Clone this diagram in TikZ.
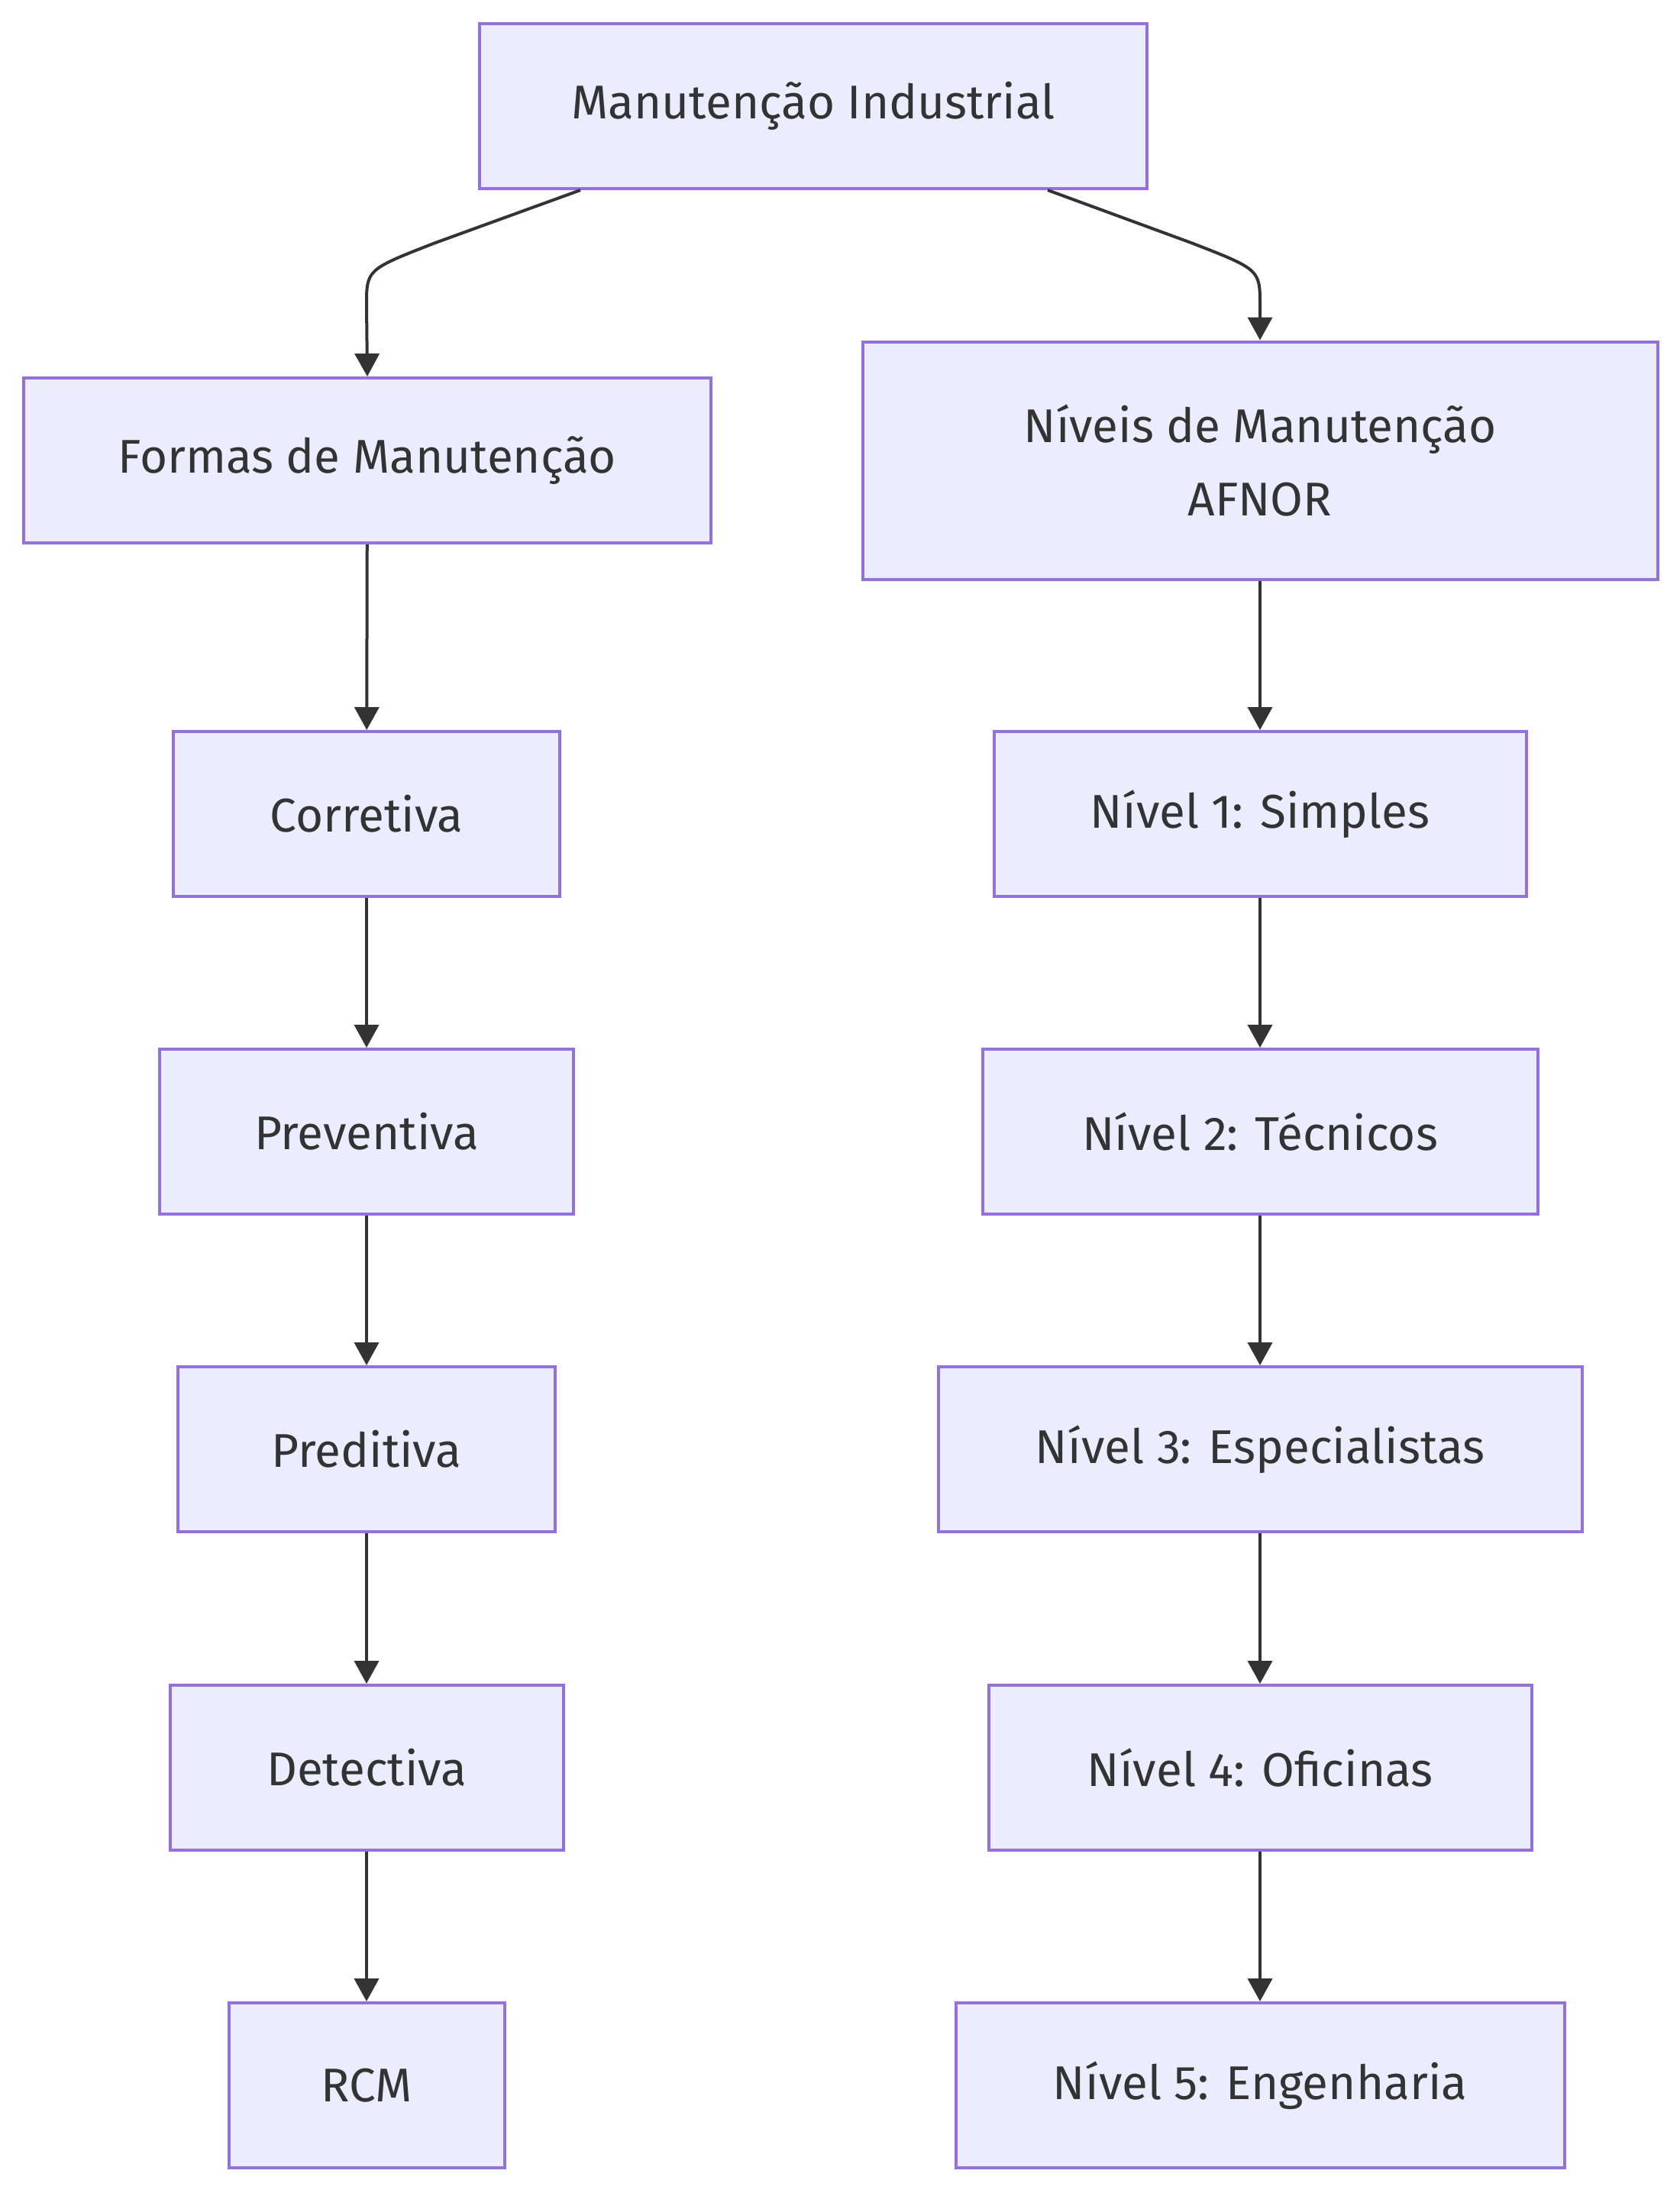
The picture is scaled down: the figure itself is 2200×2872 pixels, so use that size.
\documentclass[tikz,border=0pt]{standalone}
\usepackage{fontspec}
\setmainfont{Fira Sans}
\usetikzlibrary{arrows.meta}
\definecolor{boxfill}{HTML}{ECECFF}
\definecolor{boxline}{HTML}{9370DB}
\definecolor{ink}{HTML}{333333}
\begin{document}
\begin{tikzpicture}[x=0.5pt,y=-0.5pt,
  box/.style={draw=boxline,fill=boxfill,line width=2pt,inner sep=0pt,
    minimum height=108pt,align=center,text=ink,
    font=\fontsize{31}{48}\selectfont},
  conn/.style={draw=ink,line width=2pt,-{Triangle[length=15pt,width=16pt]}}]
\useasboundingbox (0,0) rectangle (2200,2872);
\node[box,minimum width=437pt] (top) at (1065,139) {Manutenção Industrial};
\node[box,minimum width=450pt] (formas) at (481,603) {Formas de Manutenção};
\node[box,minimum width=520.5pt,minimum height=155.5pt] (niveis) at (1650,603) {Níveis de Manutenção\\AFNOR};
\node[box,minimum width=253pt] (corr) at (480,1066) {Corretiva};
\node[box,minimum width=271pt] (prev) at (480,1482) {Preventiva};
\node[box,minimum width=247pt] (pred) at (480,1898) {Preditiva};
\node[box,minimum width=257.5pt] (det) at (480,2315) {Detectiva};
\node[box,minimum width=180.5pt] (rcm) at (480,2731) {RCM};
\node[box,minimum width=348.5pt] (n1) at (1650,1066) {Nível 1: Simples};
\node[box,minimum width=363.5pt] (n2) at (1650,1482) {Nível 2: Técnicos};
\node[box,minimum width=421.5pt] (n3) at (1650,1898) {Nível 3: Especialistas};
\node[box,minimum width=355.5pt] (n4) at (1650,2315) {Nível 4: Oficinas};
\node[box,minimum width=398.5pt] (n5) at (1650,2731) {Nível 5: Engenharia};
\coordinate (ls) at (760,247);
\coordinate (rs) at (1372,247);
\draw[conn] (top.south -| ls) -- (570,318) .. controls (480,353) .. (480,400) -- (formas.north);
\draw[conn] (top.south -| rs) -- (1560,318) .. controls (1650,353) .. (1650,400) -- (niveis.north);
\draw[conn] (formas) -- (corr);
\draw[conn] (corr) -- (prev);
\draw[conn] (prev) -- (pred);
\draw[conn] (pred) -- (det);
\draw[conn] (det) -- (rcm);
\draw[conn] (niveis) -- (n1);
\draw[conn] (n1) -- (n2);
\draw[conn] (n2) -- (n3);
\draw[conn] (n3) -- (n4);
\draw[conn] (n4) -- (n5);
\end{tikzpicture}
\end{document}
